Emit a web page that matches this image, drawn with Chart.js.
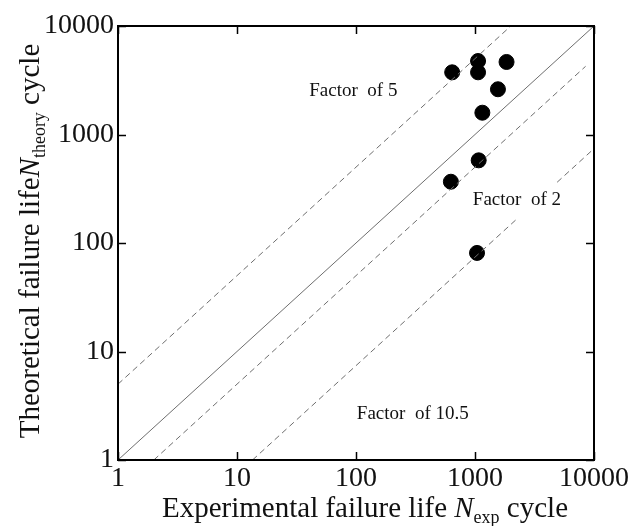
<!DOCTYPE html>
<html>
<head>
<meta charset="utf-8">
<script src="https://cdn.jsdelivr.net/npm/chart.js@4"></script>
<style>
  html, body { margin: 0; padding: 0; background: #fff; }
  #wrap { width: 631px; height: 526px; }
</style>
</head>
<body>
<div id="wrap"><canvas id="fatigueChart"></canvas></div>
<script>
// measured points (experimental vs theoretical life)
var expLife    = [643, 1061, 1061, 1841, 1559, 1153, 1074, 627, 1040];
var theoryLife = [3742, 4757, 3742, 4660, 2612, 1588, 578, 367, 81];

// reference lines
var equalX = [1, 10000];
var equalY = [1, 10000];
var factor5X = [1, 2000];
var factor5Y = [5, 10000];
var factor2X = [2, 8500];
var factor2Y = [1, 4250];
var factor10X = [13.5, 2200, null, 4900, 10000];
var factor10Y = [1, 163, null, 363, 741];

var tickValues = [1, 10, 100, 1000, 10000];
var lineLabels = ['Factor  of 5', 'Factor  of 2', 'Factor  of 10.5'];
var labelX = [95, 2250, 300];
var labelY = [2500, 250, 2.65];

var serif = '"Liberation Serif", "Times New Roman", serif';

function toPoints(xs, ys) {
  var pts = [];
  for (var i = 0; i < xs.length; i++) {
    pts.push(xs[i] === null ? { x: null, y: null } : { x: xs[i], y: ys[i] });
  }
  return pts;
}

function refLine(xs, ys, dashed) {
  return {
    data: toPoints(xs, ys),
    showLine: true,
    borderColor: '#6e6e6e',
    borderWidth: 1,
    borderDash: dashed ? [6, 4] : [],
    pointRadius: 0,
    spanGaps: false,
    fill: false
  };
}

// draws inner ticks on all four sides, labels and axis titles
var decorPlugin = {
  id: 'decor',
  afterDraw: function (chart) {
    var ctx = chart.ctx;
    var a = chart.chartArea;
    var xs = chart.scales.x, ys = chart.scales.y;
    ctx.save();
    ctx.strokeStyle = '#000';
    ctx.lineWidth = 1.5;
    var len = 8;
    tickValues.forEach(function (v) {
      var px = Math.round(xs.getPixelForValue(v)) + 0.5;
      var py = Math.round(ys.getPixelForValue(v)) + 0.5;
      ctx.beginPath();
      ctx.moveTo(px, a.bottom); ctx.lineTo(px, a.bottom - len);
      ctx.moveTo(px, a.top); ctx.lineTo(px, a.top + len);
      ctx.moveTo(a.left, py); ctx.lineTo(a.left + len, py);
      ctx.moveTo(a.right, py); ctx.lineTo(a.right - len, py);
      ctx.stroke();
    });
    ctx.lineWidth = 2;
    ctx.strokeRect(a.left, a.top, a.right - a.left, a.bottom - a.top);

    // line labels
    ctx.fillStyle = '#111';
    ctx.font = '19px ' + serif;
    ctx.textAlign = 'center';
    ctx.textBaseline = 'middle';
    lineLabels.forEach(function (t, i) {
      ctx.fillText(t, xs.getPixelForValue(labelX[i]), ys.getPixelForValue(labelY[i]));
    });

    // axis titles with italic N and subscript
    function drawRich(parts, cx, cy) {
      var total = 0;
      parts.forEach(function (p) { ctx.font = p.font; total += ctx.measureText(p.text).width; });
      var x = cx - total / 2;
      ctx.textAlign = 'left';
      ctx.textBaseline = 'alphabetic';
      parts.forEach(function (p) {
        ctx.font = p.font;
        ctx.fillText(p.text, x, cy + (p.dy || 0));
        x += ctx.measureText(p.text).width;
      });
    }
    var big = '29px ' + serif, ital = 'italic 29px ' + serif, small = '18px ' + serif;
    drawRich([
      { text: 'Experimental failure life ', font: big },
      { text: 'N', font: ital },
      { text: 'exp', font: small, dy: 6 },
      { text: ' cycle', font: big }
    ], 365, 517);

    ctx.save();
    ctx.translate(39, 241);
    ctx.rotate(-Math.PI / 2);
    drawRich([
      { text: 'Theoretical failure life', font: big },
      { text: 'N', font: ital },
      { text: 'theory', font: small, dy: 6 },
      { text: ' cycle', font: big }
    ], 0, 0);
    ctx.restore();
    ctx.restore();
  }
};

var pointSet = {
  data: toPoints(expLife, theoryLife),
  backgroundColor: '#000',
  borderColor: '#000',
  pointRadius: 7.5,
  pointHoverRadius: 7.5,
  showLine: false
};

function logAxis(pos, size) {
  return {
    type: 'logarithmic',
    position: pos,
    min: 1,
    max: 10000,
    grid: { display: false, drawTicks: false },
    border: { display: false },
    afterBuildTicks: function (scale) {
      scale.ticks = tickValues.map(function (v) { return { value: v }; });
    },
    afterFit: function (scale) {
      if (pos === 'left') scale.width = size; else scale.height = size;
    },
    ticks: {
      color: '#111',
      font: { family: serif, size: 28 },
      padding: pos === 'left' ? 4 : 2,
      maxRotation: 0,
      autoSkip: false,
      callback: function (v) { return String(v); }
    }
  };
}

new Chart(document.getElementById('fatigueChart'), {
  type: 'scatter',
  data: {
    datasets: [
      refLine(equalX, equalY, false),
      refLine(factor5X, factor5Y, true),
      refLine(factor2X, factor2Y, true),
      refLine(factor10X, factor10Y, true),
      pointSet
    ]
  },
  options: {
    responsive: true,
    maintainAspectRatio: false,
    animation: false,
    layout: { padding: { top: 26, right: 32, left: 0, bottom: 0 } },
    plugins: { legend: { display: false }, tooltip: { enabled: false } },
    scales: {
      x: logAxis('bottom', 66),
      y: logAxis('left', 118)
    }
  },
  plugins: [decorPlugin]
});
</script>
</body>
</html>
